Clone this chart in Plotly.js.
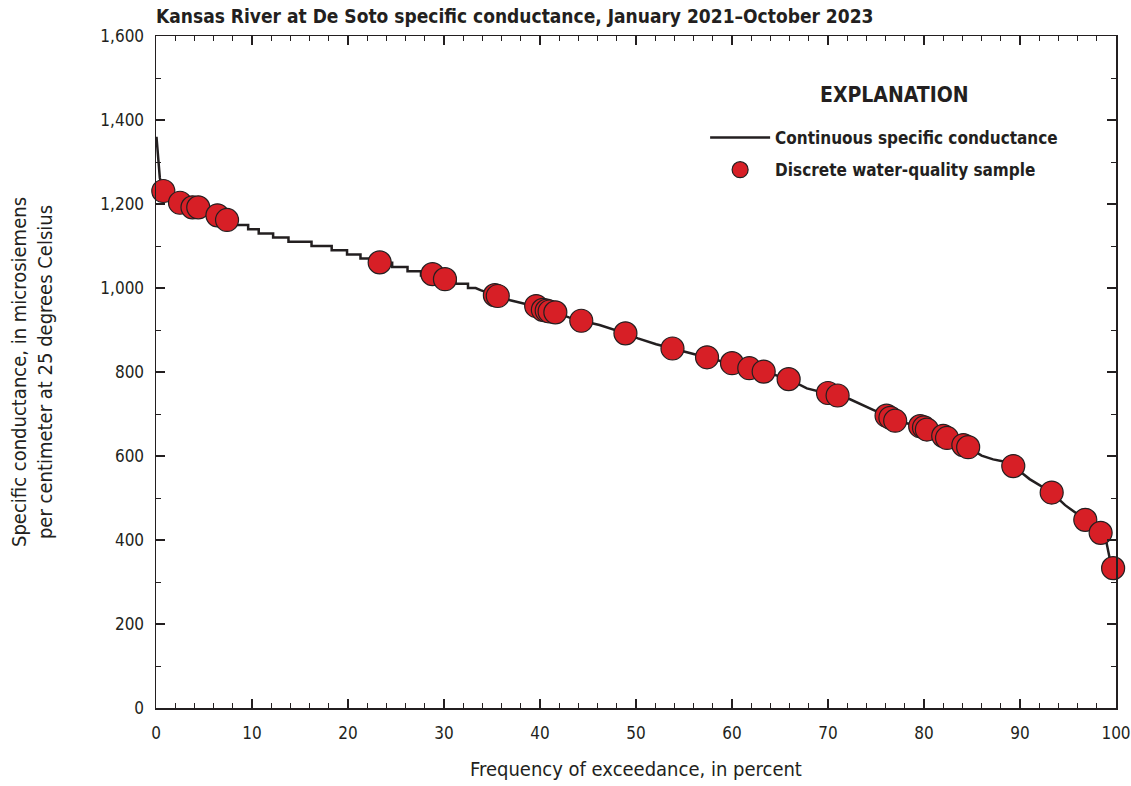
<!DOCTYPE html>
<html>
<head>
<meta charset="utf-8">
<script src="https://cdn.plot.ly/plotly-3.0.1.min.js"></script>
<style>html,body{margin:0;padding:0;background:#fff;}#chart{width:1131px;height:786px;}</style>
</head>
<body>
<div id="chart"></div>
<script>
// Continuous specific conductance duration curve (percent exceedance, uS/cm)
const lineX = [0.05,0.12,0.2,0.28,0.4,0.6,0.76,1.5,2.5,3.2,3.8,4.4,5.4,6.4,7.4,8.2,
  9.6,9.6,10.7,10.7,12.2,12.2,13.8,13.8,16.2,16.2,18.3,18.3,19.9,19.9,21.3,21.3,22.3,22.3,
  24.6,24.6,26.2,26.2,27.6,27.6,29.4,29.4,31.2,31.2,32.5,32.5,33.3,
  33.8,35.3,36.9,38.5,39.6,41.6,43,44.3,46.2,48.9,50.2,52.1,53.8,55.5,57.4,58.8,60,61.8,63.3,64.5,65.9,
  67.8,69,70,71,72.3,74.7,76.1,77,78.3,79.6,80.3,81.2,82.4,83.3,84.6,86,87.2,88.3,89.3,91,92.2,93.3,
  94.7,95.8,96.8,97.6,98.4,99.0,99.2,99.4,99.7,99.85,99.97];
const lineY = [1360,1340,1300,1275,1262,1245,1231,1215,1203,1196,1192,1190,1181,1173,1162,1150,
  1150,1140,1140,1130,1130,1120,1120,1110,1110,1100,1100,1090,1090,1080,1080,1070,1070,1060,
  1060,1050,1050,1040,1040,1030,1030,1020,1020,1010,1010,1000,1000,
  995,983,971,962,957,942,930,922,912,892,880,866,856,846,835,826,821,809,801,793,783,
  761,754,750,744,735,710,696,684,677,671,663,655,643,633,621,601,592,587,576,545,528,513,
  483,465,448,432,417,395,372,350,333,318,305];

// Discrete water-quality samples
const sampleX = [0.76,2.5,3.8,4.4,6.4,7.4,23.3,28.8,30.1,35.3,35.6,39.6,40.3,40.7,41.0,41.6,44.3,48.9,
  53.8,57.4,60.0,61.8,63.3,65.9,70.0,71.0,76.1,76.5,77.0,79.6,80.0,80.3,82.0,82.4,84.1,84.6,89.3,93.3,96.8,98.4,99.7];
const sampleY = [1231,1203,1192,1192,1173,1162,1061,1033,1021,983,981,957,948,946,944,942,922,892,
  856,835,821,809,801,783,750,744,696,691,684,671,668,663,648,643,626,621,576,513,448,417,333];

const xTickVals = [0,10,20,30,40,50,60,70,80,90,100];
const yTickVals = [0,200,400,600,800,1000,1200,1400,1600];

const FONT = '"Liberation Sans Narrow", "DejaVu Sans Condensed", "Arial Narrow", sans-serif';
const INK = '#231f20';

const traces = [
  {x: lineX, y: lineY, type: 'scatter', mode: 'lines', name: 'Continuous specific conductance',
   legendgroup: 'a', line: {color: INK, width: 2.5}, cliponaxis: false},
  {x: sampleX, y: sampleY, type: 'scatter', mode: 'markers', name: 'Discrete water-quality sample',
   legendgroup: 'b', cliponaxis: false,
   marker: {color: '#d71f26', size: 23, line: {color: INK, width: 1.2}}}
];

const axisCommon = {
  showgrid: false, zeroline: false, showline: true, linecolor: INK, linewidth: 1.5,
  mirror: 'ticks', ticks: 'inside', ticklen: 9, tickwidth: 1.2, tickcolor: INK,
  tickfont: {family: FONT, size: 17, color: INK}
};

const layout = {
  width: 1131, height: 786,
  margin: {l: 156, r: 15, t: 36, b: 78},
  paper_bgcolor: '#fff', plot_bgcolor: '#fff',
  font: {family: FONT, color: INK},
  title: {text: '<b>Kansas River at De Soto specific conductance, January 2021–October 2023</b>',
    x: 0.138, xanchor: 'left', xref: 'container', y: 0.979, yanchor: 'middle', yref: 'container',
    font: {family: FONT, size: 19, color: INK}},
  xaxis: Object.assign({}, axisCommon, {
    range: [0, 100], tickvals: xTickVals, ticktext: xTickVals.map(String), ticklabelstandoff: 9,
    minor: {dtick: 2, ticklen: 5, tickwidth: 1, tickcolor: INK, ticks: 'inside'},
    title: {text: 'Frequency of exceedance, in percent', font: {family: FONT, size: 20, color: INK}, standoff: 20}
  }),
  yaxis: Object.assign({}, axisCommon, {
    range: [0, 1600], tickvals: yTickVals, tickformat: ',d', ticklabelstandoff: 7,
    minor: {dtick: 100, ticklen: 5, tickwidth: 1, tickcolor: INK, ticks: 'inside'},
    title: {text: 'Specific conductance, in microsiemens<br>per centimeter at 25 degrees Celsius',
      font: {family: FONT, size: 20, color: INK}, standoff: 42}
  }),
  showlegend: true,
  legend: {x: 0.572, y: 0.875, xanchor: 'left', yanchor: 'top', bgcolor: 'rgba(0,0,0,0)',
    traceorder: 'grouped', tracegroupgap: 7,
    font: {family: FONT, size: 17, color: INK, weight: 'bold'}, itemwidth: 60},
  annotations: [{text: '<b>EXPLANATION</b>', xref: 'paper', yref: 'paper', x: 0.769, y: 0.912,
    xanchor: 'center', yanchor: 'middle', showarrow: false, font: {family: FONT, size: 21, color: INK}}]
};

Plotly.newPlot('chart', traces, layout, {displayModeBar: false, staticPlot: true});
</script>
</body>
</html>
